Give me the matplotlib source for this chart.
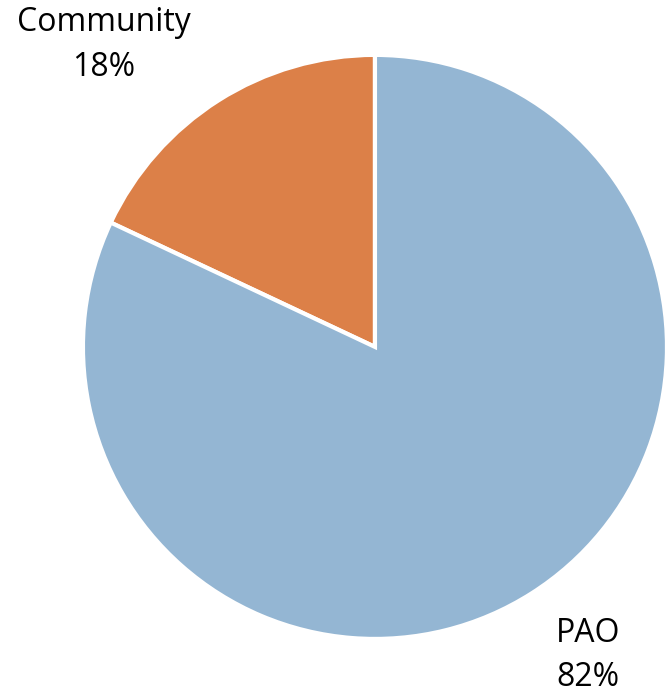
import matplotlib
matplotlib.use("Agg")
import matplotlib.pyplot as plt

# ── Data ──────────────────────────────────────────────────────────────────────
labels = ["Community", "PAO"]
shares = [18, 82]
colors = ["#DC8048", "#94B6D3"]

# ── Plot ──────────────────────────────────────────────────────────────────────
fig = plt.figure(figsize=(6.67, 6.95), dpi=100)
ax = fig.add_axes([0, 0, 1, 1])

ax.pie(shares, colors=colors, startangle=90, counterclock=True,
       radius=1.0, center=(0, 0),
       wedgeprops=dict(edgecolor="white", linewidth=3))

# Labels sit outside the pie, Excel-style
label_pos = [(-0.928, 1.034), (0.729, -1.057)]
for name, val, (x, y) in zip(labels, shares, label_pos):
    ax.text(x, y, f"{name}\n{val}%", ha="center", va="center",
            fontsize=23, family="Open Sans", color="black", linespacing=1.45)

ax.set_xlim(-1.284, 1.0)
ax.set_ylim(-1.192, 1.188)
ax.set_aspect("equal")
ax.axis("off")

fig.savefig("out.png", dpi=100)
